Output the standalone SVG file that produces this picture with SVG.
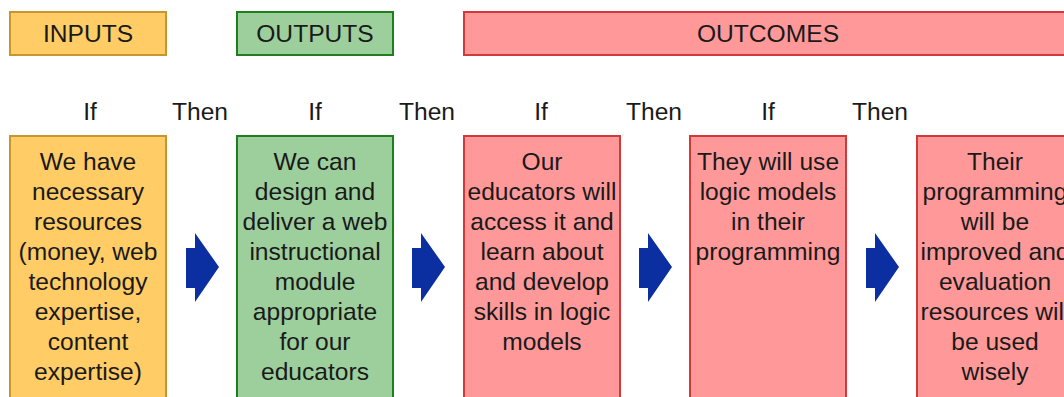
<svg xmlns="http://www.w3.org/2000/svg" width="1064" height="397" viewBox="0 0 1064 397">
<style>
text{font-family:"Liberation Sans",Arial,sans-serif;font-size:24.6px;fill:#1a1a1a;text-anchor:middle}
.in{fill:#FFCC66;stroke:#C8962E;stroke-width:2}
.out{fill:#9DCF9D;stroke:#1F7F1F;stroke-width:2}
.oc{fill:#FF9999;stroke:#D03A3A;stroke-width:2}
.arr{fill:#0B2FA0}
</style>
<defs>
<path id="ar" d="M-16,248 H-7 V233 L17,267 L-7,302 V288 H-16 Z"/>
</defs>
<g id="header-inputs"><rect class="in" x="10" y="12" width="156" height="43"/><text x="88" y="42">INPUTS</text></g>
<g id="header-outputs"><rect class="out" x="237" y="12" width="156" height="43"/><text x="315" y="42">OUTPUTS</text></g>
<g id="header-outcomes"><rect class="oc" x="464" y="12" width="608" height="43"/><text x="768" y="42">OUTCOMES</text></g>
<g id="labels">
<text x="90" y="120">If</text><text x="200" y="120">Then</text>
<text x="315" y="120">If</text><text x="427" y="120">Then</text>
<text x="541" y="120">If</text><text x="654" y="120">Then</text>
<text x="768" y="120">If</text><text x="880" y="120">Then</text>
</g>
<g id="node-inputs"><rect class="in" x="10" y="136" width="156" height="275"/>
<text x="88" y="170">We have</text><text x="88" y="200">necessary</text><text x="88" y="230">resources</text><text x="88" y="260">(money, web</text><text x="88" y="290">technology</text><text x="88" y="320">expertise,</text><text x="88" y="350">content</text><text x="88" y="380">expertise)</text></g>
<g id="node-outputs"><rect class="out" x="237" y="136" width="156" height="275"/>
<text x="315" y="170">We can</text><text x="315" y="200">design and</text><text x="315" y="230">deliver a web</text><text x="315" y="260">instructional</text><text x="315" y="290">module</text><text x="315" y="320">appropriate</text><text x="315" y="350">for our</text><text x="315" y="380">educators</text></g>
<g id="node-outcome1"><rect class="oc" x="464" y="136" width="156" height="275"/>
<text x="542" y="170">Our</text><text x="542" y="200">educators will</text><text x="542" y="230">access it and</text><text x="542" y="260">learn about</text><text x="542" y="290">and develop</text><text x="542" y="320">skills in logic</text><text x="542" y="350">models</text></g>
<g id="node-outcome2"><rect class="oc" x="690" y="136" width="156" height="275"/>
<text x="768" y="170">They will use</text><text x="768" y="200">logic models</text><text x="768" y="230">in their</text><text x="768" y="260">programming</text></g>
<g id="node-outcome3"><rect class="oc" x="917" y="136" width="156" height="275"/>
<text x="995" y="170">Their</text><text x="995" y="200">programming</text><text x="995" y="230">will be</text><text x="995" y="260">improved and</text><text x="995" y="290">evaluation</text><text x="995" y="320">resources will</text><text x="995" y="350">be used</text><text x="995" y="380">wisely</text></g>
<g id="connectors" class="arr">
<use href="#ar" x="202"/><use href="#ar" x="428"/><use href="#ar" x="655"/><use href="#ar" x="882"/>
</g>
</svg>
